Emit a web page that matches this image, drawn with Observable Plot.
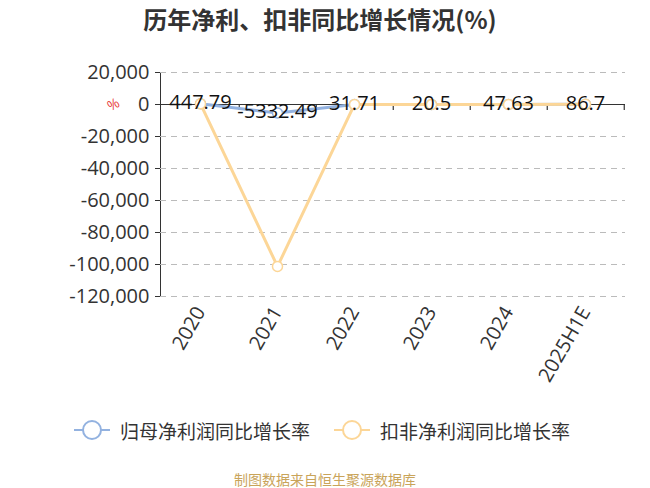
<!DOCTYPE html>
<html><head><meta charset="utf-8">
<script src="https://cdn.jsdelivr.net/npm/d3@7"></script>
<script src="https://cdn.jsdelivr.net/npm/@observablehq/plot@0.6"></script>
<style>
body{margin:0;background:#fff;font-family:"Noto Sans CJK SC","Noto Sans",sans-serif;width:650px;}
#title{height:40px;line-height:38px;text-align:center;font-weight:bold;font-size:24px;color:#333;padding-right:10px;}
#legend{height:60px;display:flex;align-items:center;justify-content:flex-start;padding-left:74px;font-size:19px;color:#333;}
.li{display:flex;align-items:center;margin-right:24px;}
.li svg{margin-right:10px;}
#caption{text-align:center;font-size:14px;color:#c9a45a;margin-top:9px;}
</style></head>
<body>
<div id="title">历年净利、扣非同比增长情况(%)</div>
<div id="chart"></div>
<div id="legend"></div>
<div id="caption">制图数据来自恒生聚源数据库</div>
<script>
const categories = ["2020","2021","2022","2023","2024","2025H1E"];
const netProfitGrowth = [447.79, -5332.49, 31.71, 20.5, 47.63, 86.7];
const deductedGrowth = [420, -101200, 30, 19, 45, 84];
const yTicks = [20000, 0, -20000, -40000, -60000, -80000, -100000, -120000];
const seriesNames = ["归母净利润同比增长率", "扣非净利润同比增长率"];
const colors = ["#93b2e0", "#fcd697"];

const blue = categories.map((c, i) => ({cat: c, v: netProfitGrowth[i]}));
const orange = categories.map((c, i) => ({cat: c, v: deductedGrowth[i]}));
const fmt = d => d.toLocaleString("en-US");

const W = 650, H = 360, mL = 160, mR = 25;
const step = (W - mL - mR) / categories.length;

const chart = Plot.plot({
  width: W, height: H,
  marginTop: 32, marginBottom: 104, marginLeft: mL, marginRight: mR,
  style: {fontSize: "20px", fontFamily: "'Open Sans','Noto Sans',sans-serif", color: "#333", background: "#fff"},
  x: {type: "point", domain: categories, padding: 0.5, tickRotate: -60, tickSize: 0, tickPadding: 12, label: null},
  y: {domain: [-120000, 20000], ticks: yTicks, tickFormat: fmt, tickSize: 5, tickPadding: 6, line: true, label: null},
  marks: [
    Plot.ruleY(yTicks.filter(d => d !== 0), {stroke: "#bbb", strokeDasharray: "6,5", strokeWidth: 1.2}),
    Plot.ruleY([0], {stroke: "#333", strokeWidth: 1.2}),
    Plot.ruleX(categories, {x: d => d, y1: 0, y2: 0, dx: step / 2, insetBottom: -6, stroke: "#333", strokeWidth: 1.2}),
    Plot.line(blue, {x: "cat", y: "v", stroke: colors[0], strokeWidth: 3}),
    Plot.line(orange, {x: "cat", y: "v", stroke: colors[1], strokeWidth: 3}),
    Plot.dot(blue, {x: "cat", y: "v", r: 5, fill: "#fff", stroke: colors[0], strokeWidth: 1.5}),
    Plot.dot(orange, {x: "cat", y: "v", r: 5, fill: "#fff", stroke: colors[1], strokeWidth: 1.5}),
    Plot.text(blue, {x: "cat", y: "v", text: d => String(d.v), fill: "#111", fontSize: 20, dy: -1}),
    Plot.text(["%"], {frameAnchor: "left", y: 0, text: d => d, dx: -52, dy: 3, fill: "#e84040", fontSize: 14, rotate: -30})
  ]
});
document.getElementById("chart").appendChild(chart);

const legend = document.getElementById("legend");
seriesNames.forEach((n, i) => {
  const d = document.createElement("div");
  d.className = "li";
  d.innerHTML = `<svg width="36" height="22"><line x1="0" y1="11" x2="36" y2="11" stroke="${colors[i]}" stroke-width="2"/><circle cx="18" cy="11" r="9" fill="#fff" stroke="${colors[i]}" stroke-width="2"/></svg><span>${n}</span>`;
  legend.appendChild(d);
});
</script>
</body></html>
